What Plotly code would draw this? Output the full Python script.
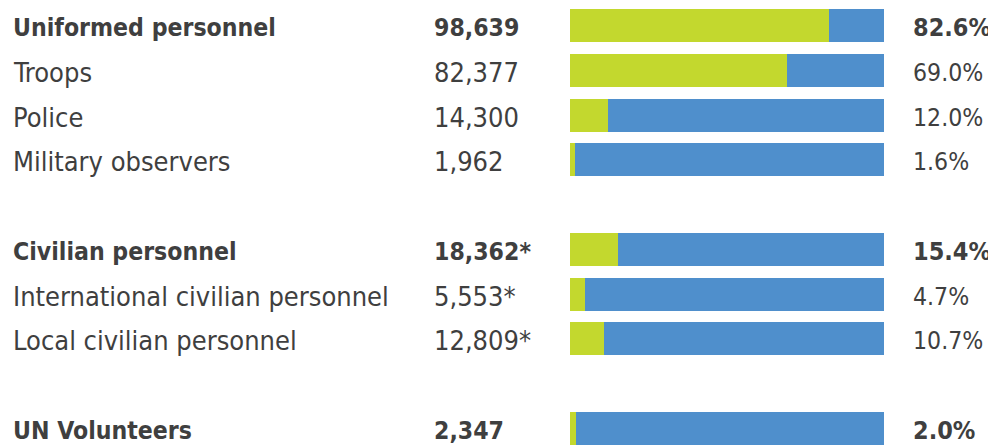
import plotly.graph_objects as go

categories = ["Uniformed personnel", "Troops", "Police", "Military observers",
              "Civilian personnel", "International civilian personnel", "Local civilian personnel",
              "UN Volunteers"]
counts = ["98,639", "82,377", "14,300", "1,962", "18,362*", "5,553*", "12,809*", "2,347"]
percent = [82.6, 69.0, 12.0, 1.6, 15.4, 4.7, 10.7, 2.0]
is_total = [True, False, False, False, True, False, False, True]
slots = [0, 1, 2, 3, 5, 6, 7, 9]

# page has an 8px body margin; figure sized to fill the window exactly
OFF = 8
W, H = 996 - OFF, 446 - OFF
GREEN = "#c3d82e"
BLUE = "#4f8fcc"
TEXT = "#3f3f3f"
FONT = "DejaVu Sans Condensed"

rest = [100 - p for p in percent]

def px(x):
    return (x - OFF) / W

fig = go.Figure()
fig.add_trace(go.Bar(y=slots, x=percent, orientation="h", marker=dict(color=GREEN, line=dict(width=0)),
                     width=0.737, hoverinfo="skip"))
fig.add_trace(go.Bar(y=slots, x=rest, orientation="h", marker=dict(color=BLUE, line=dict(width=0)),
                     width=0.737, hoverinfo="skip"))

for cat, cnt, p, tot, s in zip(categories, counts, percent, is_total, slots):
    weight = "bold" if tot else "normal"
    fs = 24.6 if tot else 27
    pfs = 25 if tot else 24.6
    fig.add_annotation(x=px(11), xref="paper", y=s, yref="y", text=cat, showarrow=False,
                       xanchor="left", yanchor="middle", yshift=-2,
                       font=dict(family=FONT, size=fs, color=TEXT, weight=weight))
    fig.add_annotation(x=px(432), xref="paper", y=s, yref="y", text=cnt, showarrow=False,
                       xanchor="left", yanchor="middle", yshift=-2,
                       font=dict(family=FONT, size=fs, color=TEXT, weight=weight))
    fig.add_annotation(x=px(911), xref="paper", y=s, yref="y", text=f"{p:.1f}%", showarrow=False,
                       xanchor="left", yanchor="middle", yshift=-2,
                       font=dict(family=FONT, size=pfs, color=TEXT, weight=weight))

pitch = 44.78
top_c = 25.5 - OFF
bot_c = 428.5 - OFF
fig.update_layout(
    width=W, height=H, barmode="stack", showlegend=False,
    margin=dict(l=0, r=0, t=0, b=0),
    paper_bgcolor="white", plot_bgcolor="white",
    xaxis=dict(domain=[px(570), px(884)], range=[0, 100], visible=False, fixedrange=True),
    yaxis=dict(range=[9 + (H - bot_c) / pitch, -top_c / pitch], visible=False, fixedrange=True),
    bargap=0,
)
fig.write_html("out.html")
